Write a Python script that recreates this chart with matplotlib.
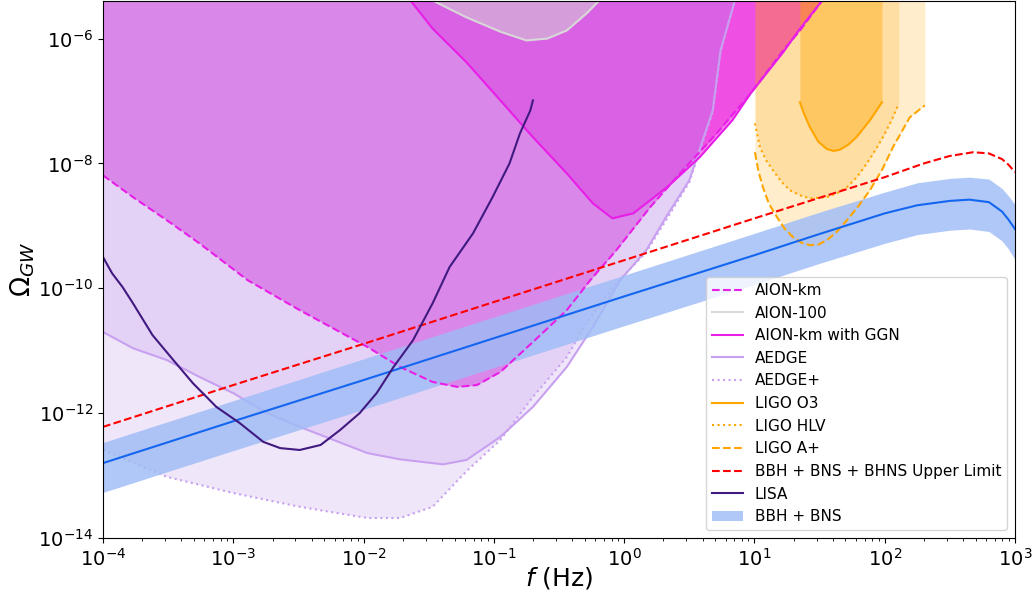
import numpy as np
import matplotlib
matplotlib.use("Agg")
import matplotlib.pyplot as plt
from matplotlib.lines import Line2D
from matplotlib.patches import Patch
from matplotlib.ticker import NullLocator, FixedLocator

# ---- data (log10 of frequency in Hz and log10 of Omega_GW) ----
aion_km_logf = [-4.0, -3.77, -3.51, -3.26, -2.89, -2.49, -1.97, -1.72, -1.47, -1.28, -1.13, -0.95,
                -0.70, -0.44, -0.26, -0.06, 0.20, 0.45, 0.71, 0.97, 1.22, 1.35, 1.52, 1.60]
aion_km_logO = [-8.19, -8.54, -8.91, -9.28, -9.87, -10.35, -10.94, -11.26, -11.50, -11.58, -11.55, -11.34,
                -10.86, -10.35, -9.87, -9.39, -8.70, -8.11, -7.52, -6.88, -6.19, -5.87, -5.39, -5.20]

aion100_logf = [-1.60, -1.47, -1.21, -0.95, -0.75, -0.59, -0.44, -0.29, -0.19, -0.12]
aion100_logO = [-5.25, -5.39, -5.66, -5.89, -6.03, -6.00, -5.87, -5.60, -5.39, -5.25]

ggn_logf = [-1.72, -1.64, -1.47, -1.21, -0.95, -0.70, -0.44, -0.24, -0.09, 0.07, 0.33, 0.58,
            0.83, 0.97, 1.22, 1.35, 1.52, 1.60]
ggn_logO = [-5.18, -5.39, -5.84, -6.38, -6.99, -7.58, -8.16, -8.64, -8.88, -8.80, -8.38, -7.90,
            -7.31, -6.88, -6.22, -5.84, -5.39, -5.20]

aedge_logf = [-4.0, -3.77, -3.51, -3.26, -3.00, -2.74, -2.49, -2.23, -1.97, -1.72, -1.39, -1.21,
              -0.95, -0.70, -0.44, -0.24, -0.03, 0.17, 0.33, 0.50, 0.68, 0.74, 0.85, 0.90]
aedge_logO = [-10.70, -10.96, -11.15, -11.42, -11.68, -12.00, -12.22, -12.43, -12.64, -12.74, -12.82, -12.75,
              -12.38, -11.90, -11.26, -10.62, -9.87, -9.39, -8.83, -8.27, -7.15, -6.19, -5.39, -4.90]

aedgep_logf = [-4.0, -3.51, -3.00, -2.49, -1.97, -1.72, -1.47, -1.21, -0.95, -0.70, -0.44, -0.29,
               -0.06, 0.17, 0.33, 0.50, 0.68, 0.74, 0.85, 0.90]
aedgep_logO = [-12.59, -13.02, -13.28, -13.50, -13.68, -13.68, -13.50, -12.93, -12.43, -11.74, -11.10, -10.56,
               -9.92, -9.42, -8.88, -8.30, -7.18, -6.21, -5.39, -4.90]

o3_logf = [1.349, 1.38, 1.426, 1.49, 1.556, 1.61, 1.656, 1.72, 1.787, 1.886, 1.979]
o3_logO = [-7.02, -7.20, -7.42, -7.65, -7.77, -7.80, -7.78, -7.70, -7.57, -7.31, -7.02]

hlv_logf = [1.004, 1.042, 1.09, 1.142, 1.21, 1.272, 1.35, 1.426, 1.556, 1.64, 1.710, 1.79, 1.863,
            1.93, 1.986, 2.05, 2.109]
hlv_logO = [-7.36, -7.74, -7.95, -8.11, -8.30, -8.43, -8.51, -8.56, -8.54, -8.47, -8.38, -8.21, -8.00,
            -7.78, -7.58, -7.32, -7.04]

aplus_logf = [1.004, 1.03, 1.065, 1.11, 1.173, 1.23, 1.296, 1.36, 1.426, 1.49, 1.556, 1.63, 1.710,
              1.80, 1.886, 1.98, 2.063, 2.193, 2.308]
aplus_logO = [-7.82, -8.12, -8.38, -8.64, -8.86, -9.04, -9.18, -9.27, -9.31, -9.30, -9.23, -9.10, -8.91,
              -8.68, -8.43, -8.10, -7.74, -7.26, -7.07]

upper_logf = [-4.0, -3.0, -2.0, -1.0, 0.0, 1.0, 1.5, 2.0, 2.3, 2.5, 2.68, 2.8, 2.9, 2.95, 3.0]
upper_logO = [-12.22, -11.55, -10.89, -10.22, -9.55, -8.88, -8.55, -8.22, -8.00, -7.88, -7.82, -7.84,
              -7.93, -8.02, -8.14]

lisa_logf = [-4.0, -3.93, -3.85, -3.77, -3.62, -3.46, -3.31, -3.13, -2.95, -2.77, -2.64, -2.49, -2.33,
             -2.18, -2.03, -1.90, -1.77, -1.62, -1.47, -1.34, -1.16, -1.01, -0.88, -0.80, -0.72, -0.70]
lisa_logO = [-9.50, -9.76, -9.98, -10.24, -10.75, -11.15, -11.52, -11.90, -12.16, -12.46, -12.56, -12.59,
             -12.51, -12.27, -12.00, -11.68, -11.26, -10.83, -10.24, -9.66, -9.12, -8.54, -8.00, -7.52,
             -7.15, -6.99]

bbh_logf = [-4.0, -3.0, -2.0, -1.0, 0.0, 1.0, 1.5, 2.0, 2.25, 2.5, 2.65, 2.8, 2.9, 2.95, 3.0]
bbh_mid = [-12.80, -12.13, -11.47, -10.80, -10.13, -9.47, -9.13, -8.80, -8.67, -8.60, -8.58, -8.62,
           -8.77, -8.90, -9.05]
bbh_hi = [-12.47, -11.80, -11.13, -10.46, -9.79, -9.12, -8.78, -8.46, -8.31, -8.24, -8.22, -8.25,
          -8.40, -8.52, -8.66]
bbh_lo = [-13.27, -12.60, -11.94, -11.27, -10.60, -9.94, -9.60, -9.28, -9.14, -9.07, -9.05, -9.09,
          -9.24, -9.37, -9.54]

ytick_values = [1e-14, 1e-12, 1e-10, 1e-8, 1e-6]

labels = ["AION-km", "AION-100", "AION-km with GGN", "AEDGE", "AEDGE+", "LIGO O3", "LIGO HLV",
          "LIGO A+", "BBH + BNS + BHNS Upper Limit", "LISA", "BBH + BNS"]


def p(a):
    return 10.0 ** np.asarray(a)


TOP = 1e-3
MAG = "#e81ee8"
AEDGE_C = "#c8a0f0"
ORANGE = "#ffa500"
BAND_C = (158 / 255, 188 / 255, 246 / 255)

fig = plt.figure(figsize=(10.34, 5.97), dpi=100)
ax = fig.add_axes([103 / 1034, 59 / 597, 912 / 1034, 537 / 597])
ax.set_xscale("log")
ax.set_yscale("log")

# fills
ax.fill_between(p(aion_km_logf), p(aion_km_logO), TOP, color=(230 / 255, 70 / 255, 225 / 255), alpha=0.62,
                lw=0, zorder=1.0)
ax.fill_between(p(ggn_logf), p(ggn_logO), TOP, color=(240 / 255, 20 / 255, 220 / 255), alpha=0.5,
                lw=0, zorder=1.1)
ax.fill_between(p(aedgep_logf), p(aedgep_logO), TOP, color=(180 / 255, 130 / 255, 230 / 255), alpha=0.2,
                lw=0, zorder=1.2)
ax.fill_between(p(aedge_logf), p(aedge_logO), TOP, color=(180 / 255, 130 / 255, 230 / 255), alpha=0.2,
                lw=0, zorder=1.2)
ax.fill_between(p(aion100_logf), p(aion100_logO), TOP, color="#d3d3d3", alpha=0.53, lw=0, zorder=1.3)
ax.fill_between(p(aplus_logf), p(aplus_logO), TOP, color=ORANGE, alpha=0.2, lw=0, zorder=1.4)
ax.fill_between(p(hlv_logf), p(hlv_logO), TOP, color=ORANGE, alpha=0.2, lw=0, zorder=1.4)
ax.fill_between(p(o3_logf), p(o3_logO), TOP, color=ORANGE, alpha=0.4, lw=0, zorder=1.4)

# AEDGE lines (beneath the band)
ax.plot(p(aedge_logf), p(aedge_logO), color=AEDGE_C, lw=1.5, zorder=1.5)
ax.plot(p(aedgep_logf), p(aedgep_logO), color=AEDGE_C, lw=1.5, ls=":", zorder=1.5)

# BBH + BNS band
ax.fill_between(p(bbh_logf), p(bbh_lo), p(bbh_hi), color=BAND_C, alpha=0.82, lw=0, zorder=1.8)

# lines
ax.plot(p(aion100_logf), p(aion100_logO), color="#d8d8d8", lw=1.5, zorder=2.1)
ax.plot(p(aion_km_logf), p(aion_km_logO), color=MAG, lw=1.5, ls="--", zorder=2.2)
ax.plot(p(ggn_logf), p(ggn_logO), color=MAG, lw=1.5, zorder=2.2)
ax.plot(p(o3_logf), p(o3_logO), color=ORANGE, lw=1.5, zorder=2.3)
ax.plot(p(hlv_logf), p(hlv_logO), color=ORANGE, lw=1.5, ls=":", zorder=2.3)
ax.plot(p(aplus_logf), p(aplus_logO), color=ORANGE, lw=1.5, ls="--", zorder=2.3)
ax.plot(p(upper_logf), p(upper_logO), color="red", lw=1.5, ls="--", zorder=2.4)
ax.plot(p(bbh_logf), p(bbh_mid), color="#1466f0", lw=1.5, zorder=2.4)
ax.plot(p(lisa_logf), p(lisa_logO), color="#401a80", lw=1.5, zorder=2.5)

ax.set_xlim(1e-4, 1e3)
ax.set_ylim(1e-14, 4e-6)
ax.yaxis.set_major_locator(FixedLocator(ytick_values))
ax.yaxis.set_minor_locator(NullLocator())
ax.tick_params(labelsize=14)
ax.set_xlabel(r"$f$ (Hz)", fontsize=18, labelpad=-3)
ax.set_ylabel(r"$\Omega_{GW}$", fontsize=19, labelpad=1)

handles = [
    Line2D([], [], color=MAG, lw=1.5, ls="--"),
    Line2D([], [], color="#d8d8d8", lw=1.5),
    Line2D([], [], color=MAG, lw=1.5),
    Line2D([], [], color=AEDGE_C, lw=1.5),
    Line2D([], [], color=AEDGE_C, lw=1.5, ls=":"),
    Line2D([], [], color=ORANGE, lw=1.5),
    Line2D([], [], color=ORANGE, lw=1.5, ls=":"),
    Line2D([], [], color=ORANGE, lw=1.5, ls="--"),
    Line2D([], [], color="red", lw=1.5, ls="--"),
    Line2D([], [], color="#401a80", lw=1.5),
    Patch(facecolor=BAND_C, alpha=0.82, lw=0),
]
ax.legend(handles, labels, loc="lower right", fontsize=11)

fig.savefig("out.png", dpi=100)
